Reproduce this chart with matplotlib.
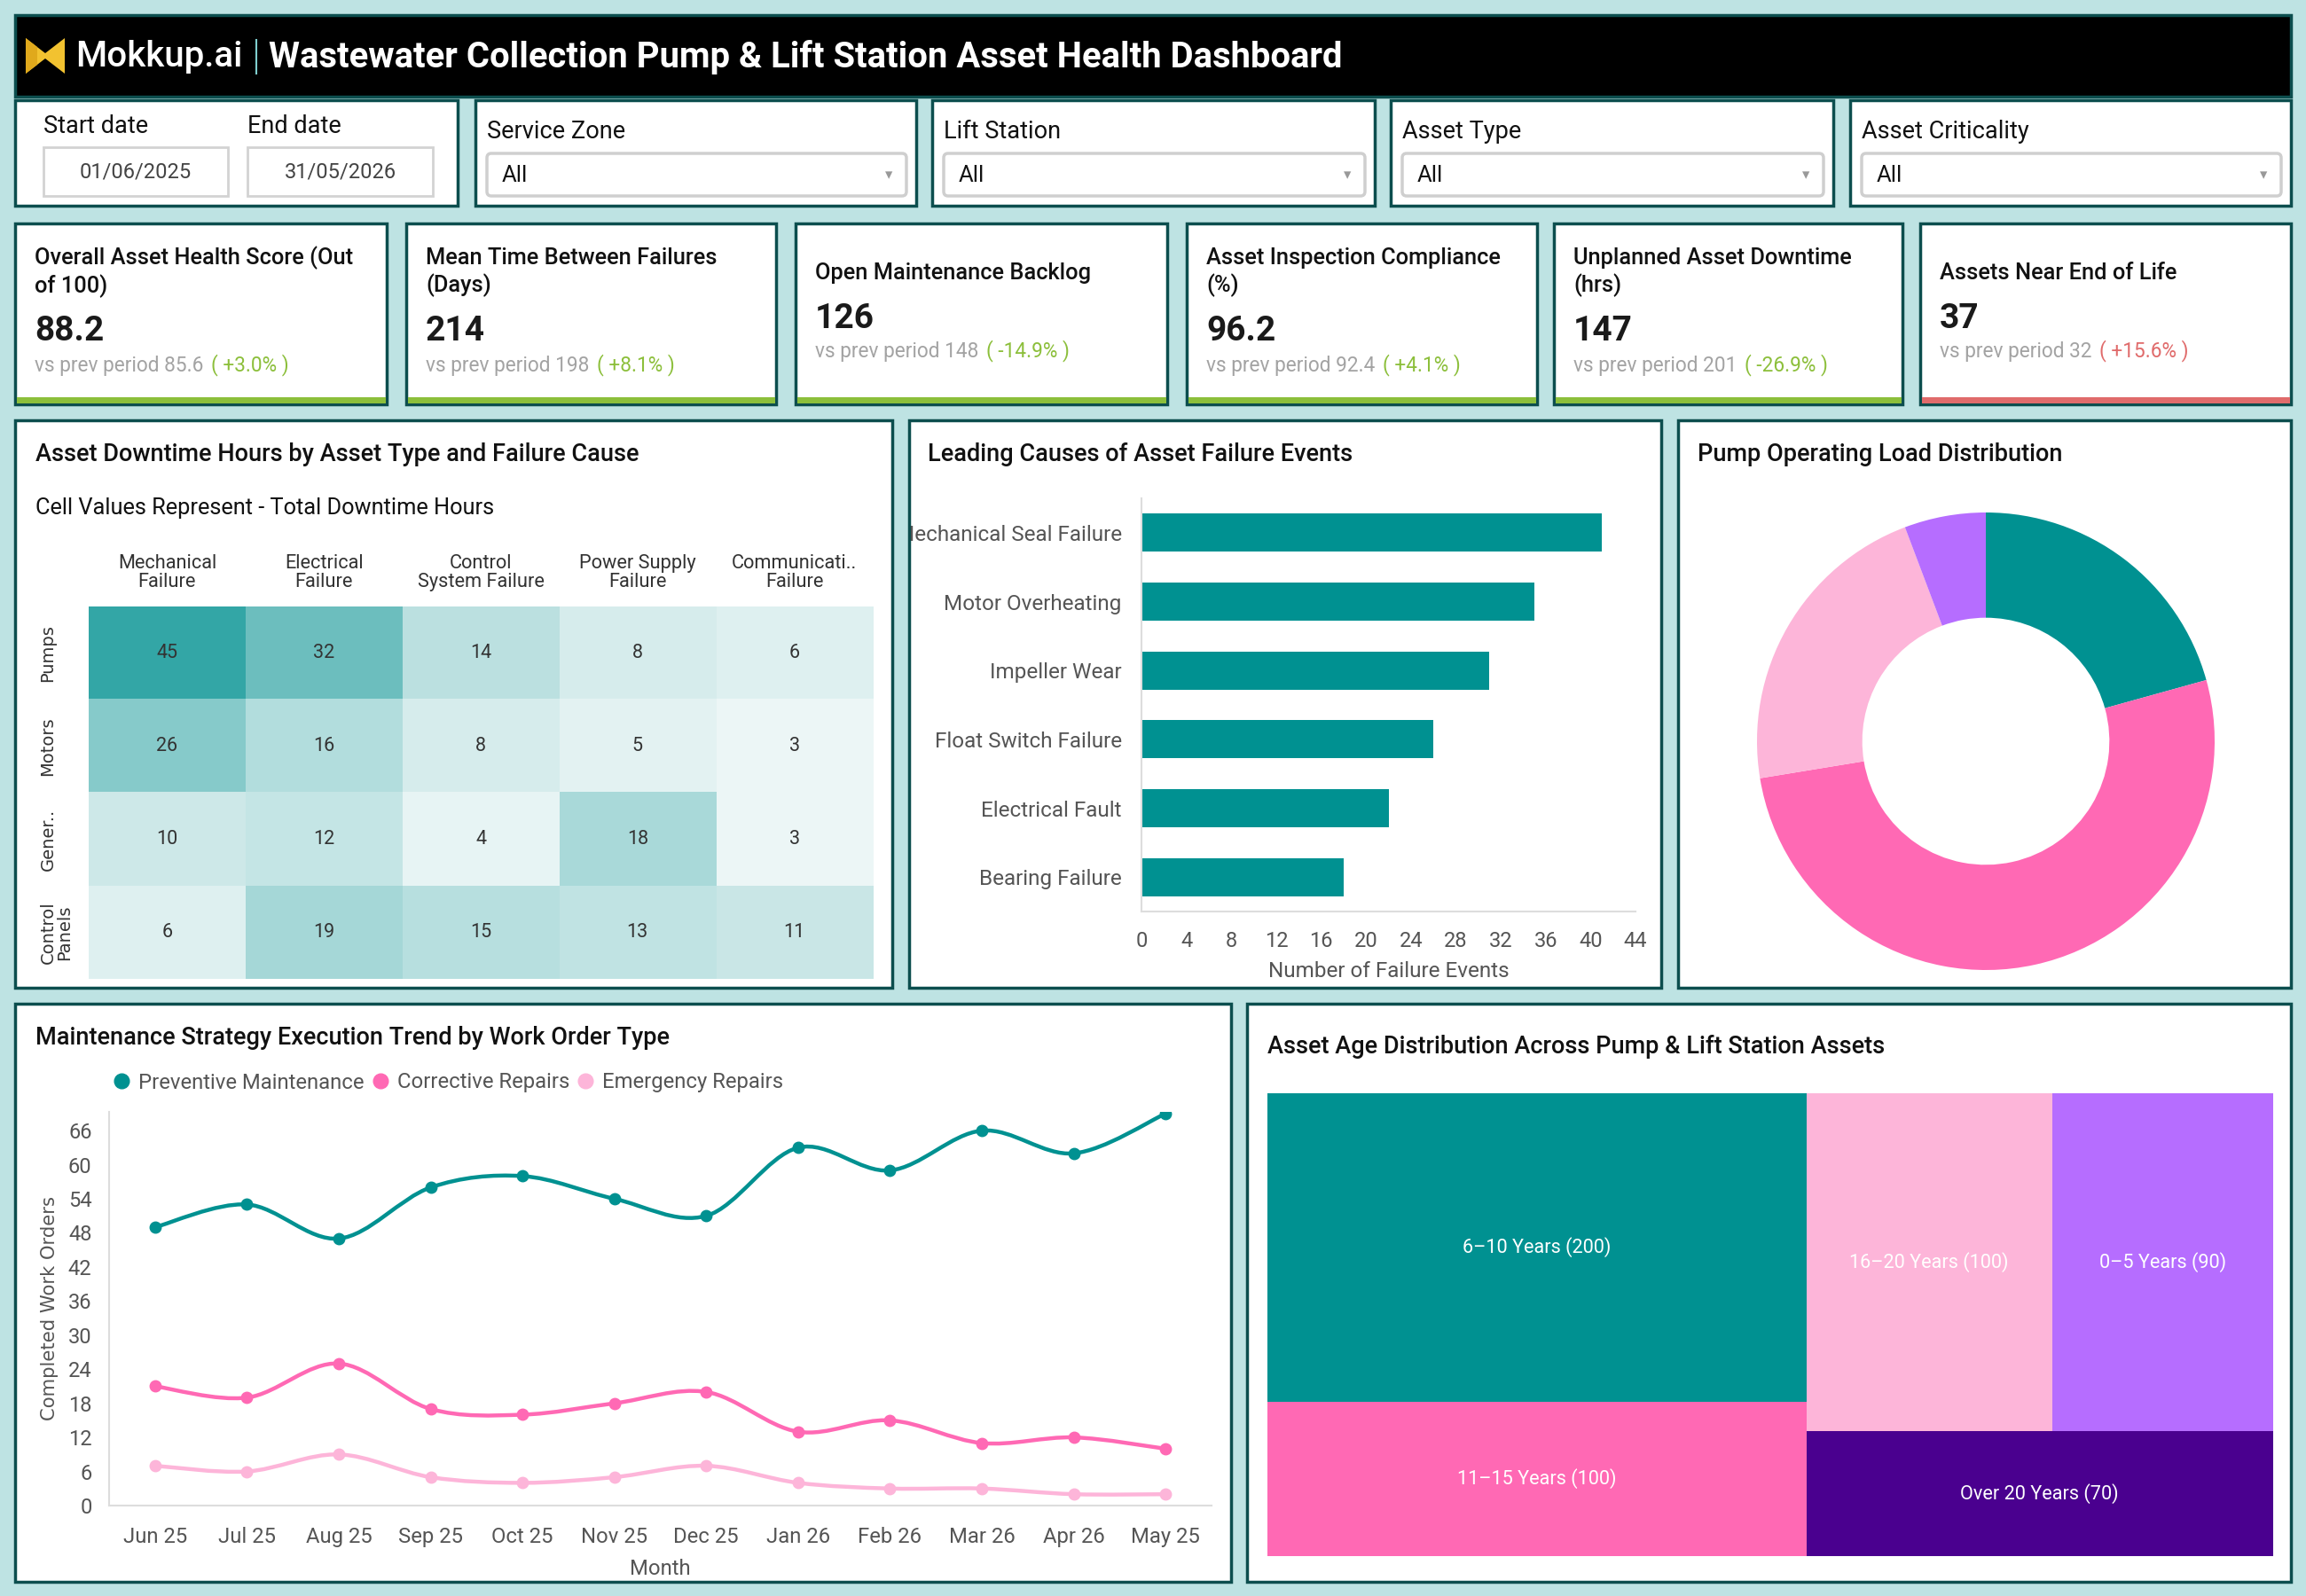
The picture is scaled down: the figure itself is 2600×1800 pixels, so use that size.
import numpy as np
import matplotlib
matplotlib.use('Agg')
import matplotlib.pyplot as plt
from matplotlib.patches import Rectangle, FancyBboxPatch, Polygon, PathPatch
from matplotlib.path import Path
from matplotlib.lines import Line2D
from matplotlib.colors import LinearSegmentedColormap
from matplotlib.transforms import Bbox

plt.rcParams['font.family'] = ['Roboto', 'DejaVu Sans']

# ---------------- data ----------------
header_brand = 'Mokkup.ai'
header_title = 'Wastewater Collection Pump & Lift Station Asset Health Dashboard'

start_label, end_label = 'Start date', 'End date'
start_date, end_date = '01/06/2025', '31/05/2026'
filter_labels = ['Service Zone', 'Lift Station', 'Asset Type', 'Asset Criticality']
filter_values = ['All', 'All', 'All', 'All']

kpi_titles = ['Overall Asset Health Score (Out\nof 100)', 'Mean Time Between Failures\n(Days)',
              'Open Maintenance Backlog', 'Asset Inspection Compliance\n(%)',
              'Unplanned Asset Downtime\n(hrs)', 'Assets Near End of Life']
kpi_values = ['88.2', '214', '126', '96.2', '147', '37']
kpi_prev = ['85.6', '198', '148', '92.4', '201', '32']
kpi_delta = ['+3.0%', '+8.1%', '-14.9%', '+4.1%', '-26.9%', '+15.6%']
kpi_good = [True, True, True, True, True, False]

heat_rows = ['Pumps', 'Motors', 'Gener..', 'Control\nPanels']
heat_cols = ['Mechanical\nFailure', 'Electrical\nFailure', 'Control\nSystem Failure',
             'Power Supply\nFailure', 'Communicati..\nFailure']
heat_pumps = [45, 32, 14, 8, 6]
heat_motors = [26, 16, 8, 5, 3]
heat_gener = [10, 12, 4, 18, 3]
heat_panels = [6, 19, 15, 13, 11]

fail_causes = ['Mechanical Seal Failure', 'Motor Overheating', 'Impeller Wear',
               'Float Switch Failure', 'Electrical Fault', 'Bearing Failure']
fail_counts = [41, 35, 31, 26, 22, 18]

load_labels = ['Normal Load', 'High Load', 'Low Load', 'Overload']
load_values = [36, 90, 38, 10]

months = ['Jun 25', 'Jul 25', 'Aug 25', 'Sep 25', 'Oct 25', 'Nov 25', 'Dec 25',
          'Jan 26', 'Feb 26', 'Mar 26', 'Apr 26', 'May 25']
preventive = [49, 53, 47, 56, 58, 54, 51, 63, 59, 66, 62, 69]
corrective = [21, 19, 25, 17, 16, 18, 20, 13, 15, 11, 12, 10]
emergency = [7, 6, 9, 5, 4, 5, 7, 4, 3, 3, 2, 2]
series_names = ['Preventive Maintenance', 'Corrective Repairs', 'Emergency Repairs']

age_labels = ['6–10 Years', '11–15 Years', '16–20 Years', '0–5 Years', 'Over 20 Years']
age_counts = [200, 100, 100, 90, 70]

# ---------------- style ----------------
W, H = 2600, 1800
BG = '#BEE3E3'
BORDER = '#0C4E4E'
TEAL = '#009191'
HOT = '#FF69B4'
LPINK = '#FDB5D9'
PURPLE = '#B66DFF'
DPURPLE = '#4A008F'
GREEN = '#8CBF3B'
RED = '#E06B6B'
TITLE_FS = 19.5

fig = plt.figure(figsize=(W / 100, H / 100), dpi=100)
fig.patch.set_facecolor(BG)
bg = fig.add_axes([0, 0, 1, 1])
bg.set_xlim(0, W)
bg.set_ylim(H, 0)
bg.axis('off')
bg.set_zorder(0)


def panel(x0, y0, x1, y1, fc='white', ec=BORDER, lw=2.5):
    r = Rectangle((x0, y0), x1 - x0, y1 - y0, fc=fc, ec=ec, lw=lw, zorder=1)
    bg.add_patch(r)
    return r


def fax(x0, y0, x1, y1):
    a = fig.add_axes([x0 / W, 1 - y1 / H, (x1 - x0) / W, (y1 - y0) / H])
    a.set_zorder(2)
    a.patch.set_alpha(0)
    return a


# ---------------- header ----------------
panel(17, 17, 2583, 109, fc='black')
bg.add_patch(Polygon([(29, 43), (51, 60), (73, 43), (73, 83), (51, 66), (29, 83)],
                     closed=True, fc='#F2C230', ec='none', zorder=2))
bg.add_patch(Polygon([(29, 43), (42, 53), (42, 73), (29, 83)], closed=True,
                     fc='#E0A91C', ec='none', zorder=2))
bg.text(85, 64, header_brand, color='white', fontsize=29, fontweight='medium',
        va='center', ha='left', zorder=3)
bg.plot([289, 289], [45, 83], color='#7FCFCF', lw=1.5, zorder=3)
bg.text(303, 64, header_title, color='white', fontsize=28.8, fontweight='bold',
        va='center', ha='left', zorder=3)

# ---------------- filters ----------------
panel(17, 113, 516, 232)
for x0, x1, lab, val in [(49, 257, start_label, start_date), (279, 488, end_label, end_date)]:
    bg.text(x0, 142, lab, fontsize=19.5, color='#111111', va='center', zorder=3)
    bg.add_patch(Rectangle((x0, 166), x1 - x0, 55, fc='white', ec='#D3D3D3', lw=2, zorder=2))
    bg.text((x0 + x1) / 2, 194, val, fontsize=17, color='#444444', va='center',
            ha='center', zorder=3)

fbox = [(536, 1033), (1051, 1550), (1568, 2067), (2086, 2583)]
for (x0, x1), lab, val in zip(fbox, filter_labels, filter_values):
    panel(x0, 113, x1, 232)
    bg.text(x0 + 13, 148, lab, fontsize=19.5, color='#111111', va='center', zorder=3)
    bg.add_patch(FancyBboxPatch((x0 + 13, 173), x1 - x0 - 24, 48,
                                boxstyle='round,pad=0,rounding_size=5',
                                fc='white', ec='#CFCFCF', lw=2.5, zorder=2))
    bg.text(x0 + 30, 198, val, fontsize=18.5, color='#111111', va='center', zorder=3)
    bg.text(x1 - 31, 197, '▾', fontsize=12, color='#999999', va='center', ha='center',
            family=['DejaVu Sans'], zorder=3)

# ---------------- KPI cards ----------------
kpi_x = [(17, 436), (458, 875), (897, 1316), (1338, 1733), (1752, 2145), (2165, 2583)]
for (x0, x1), t, v, p, d, good in zip(kpi_x, kpi_titles, kpi_values, kpi_prev,
                                      kpi_delta, kpi_good):
    panel(x0, 252, x1, 456)
    bg.add_patch(Rectangle((x0 + 1.5, 448), x1 - x0 - 3, 7, fc=GREEN if good else RED,
                           ec='none', zorder=2))
    two = '\n' in t
    ty, vy, py = (307, 374, 412) if two else (308, 359, 397)
    bg.text(x0 + 22, ty, t, fontsize=18.3, fontweight='medium', color='#111111',
            va='center', ha='left', linespacing=1.25, zorder=3)
    bg.text(x0 + 22, vy, v, fontsize=28, fontweight='bold', color='#1A1A1A',
            va='center', ha='left', zorder=3)
    t1 = bg.text(x0 + 22, py, f'vs prev period {p}', fontsize=16.3, color='#A3A3A3',
                 va='center', ha='left', zorder=3)
    bg.annotate(f'( {d} )', xy=(1, 0), xycoords=t1, xytext=(6, 0),
                textcoords='offset points', va='bottom', ha='left', fontsize=16.3,
                color=GREEN if good else RED, zorder=3)

# ---------------- heatmap ----------------
panel(17, 474, 1006, 1114)
bg.text(40, 513, 'Asset Downtime Hours by Asset Type and Failure Cause', fontsize=TITLE_FS,
        fontweight='medium', color='#111111', va='center', zorder=3)
bg.text(40, 573, 'Cell Values Represent - Total Downtime Hours', fontsize=18.3,
        color='#111111', va='center', zorder=3)
axh = fax(100, 684, 984, 1104)
heat = np.array([heat_pumps, heat_motors, heat_gener, heat_panels])
cmap = LinearSegmentedColormap.from_list('tealmap', ['#ECF6F6', '#33A6A6'])
axh.imshow(heat, cmap=cmap, vmin=3, vmax=45, aspect='auto', interpolation='nearest')
for i in range(heat.shape[0]):
    for j in range(heat.shape[1]):
        axh.text(j, i, str(heat[i, j]), ha='center', va='center', fontsize=15.5,
                 color='#333333')
axh.set_xticks(range(len(heat_cols)))
axh.set_xticklabels(heat_cols, fontsize=15.7, color='#333333', linespacing=1.05)
axh.xaxis.tick_top()
axh.set_yticks(range(len(heat_rows)))
axh.set_yticklabels(heat_rows, rotation=90, va='center', ha='left', fontsize=14,
                    color='#333333', family=['DejaVu Sans'], linespacing=1.0,
                    multialignment='center')
axh.tick_params(axis='x', length=0, pad=12)
axh.tick_params(axis='y', length=0, pad=40)
for s in axh.spines.values():
    s.set_visible(False)

# ---------------- bar chart ----------------
panel(1025, 474, 1873, 1114)
bg.text(1046, 513, 'Leading Causes of Asset Failure Events', fontsize=TITLE_FS,
        fontweight='medium', color='#111111', va='center', zorder=3)
axb = fax(1287, 562, 1844, 1028)
axb.barh(range(len(fail_causes)), fail_counts, height=0.55, color=TEAL)
axb.set_ylim(len(fail_causes) - 0.5, -0.5)
axb.set_xlim(0, 44)
axb.set_xticks(np.arange(0, 45, 4))
axb.set_yticks(range(len(fail_causes)))
axb.set_yticklabels(fail_causes)
axb.tick_params(axis='y', length=0, pad=16, labelsize=17.5, labelcolor='#555555')
axb.tick_params(axis='x', length=0, pad=16, labelsize=17, labelcolor='#555555')
axb.set_xlabel('Number of Failure Events', fontsize=17.5, color='#555555', labelpad=8)
for s in ['top', 'right']:
    axb.spines[s].set_visible(False)
for s in ['left', 'bottom']:
    axb.spines[s].set_color('#DDDDDD')
    axb.spines[s].set_linewidth(1.5)
clipbox = Bbox.from_extents(1027, 0, 2600, 1800)
for lab in axb.get_yticklabels():
    lab.set_clip_on(True)
    lab.set_clip_box(clipbox)

# ---------------- donut ----------------
panel(1892, 474, 2583, 1114)
bg.text(1914, 513, 'Pump Operating Load Distribution', fontsize=TITLE_FS,
        fontweight='medium', color='#111111', va='center', zorder=3)
cx, cy, R = 2239, 836, 258
axd = fax(cx - R, cy - R, cx + R, cy + R)
axd.pie(load_values, colors=[TEAL, HOT, LPINK, PURPLE], startangle=90,
        counterclock=False, radius=1, wedgeprops=dict(width=0.46, edgecolor='none'))
axd.set_xlim(-1, 1)
axd.set_ylim(-1, 1)
axd.set_aspect('equal')
axd.axis('off')

# ---------------- line chart ----------------
panel(17, 1132, 1388, 1784)
bg.text(40, 1171, 'Maintenance Strategy Execution Trend by Work Order Type', fontsize=TITLE_FS,
        fontweight='medium', color='#111111', va='center', zorder=3)
axl = fax(123, 1254, 1366, 1698)
xs = np.arange(len(months))


def smooth_path(x, y, t=1 / 6):
    pts = np.column_stack([x, y]).astype(float)
    n = len(pts)
    verts = [pts[0]]
    codes = [Path.MOVETO]
    for i in range(n - 1):
        p0 = pts[max(i - 1, 0)]
        p1 = pts[i]
        p2 = pts[i + 1]
        p3 = pts[min(i + 2, n - 1)]
        verts += [p1 + (p2 - p0) * t, p2 - (p3 - p1) * t, p2]
        codes += [Path.CURVE4] * 3
    return Path(verts, codes)


for ys, c in [(emergency, LPINK), (corrective, HOT), (preventive, TEAL)]:
    axl.add_patch(PathPatch(smooth_path(xs, ys), fill=False, ec=c, lw=3.2,
                            capstyle='round', joinstyle='round'))
    axl.plot(xs, ys, 'o', ms=9, color=c, zorder=3)
axl.set_xlim(-0.5, len(months) - 0.5)
axl.set_ylim(0, 69.3)
axl.set_yticks(np.arange(0, 67, 6))
axl.set_xticks(xs)
axl.set_xticklabels(months)
axl.tick_params(axis='y', length=0, pad=14, labelsize=17, labelcolor='#555555')
axl.tick_params(axis='x', length=0, pad=17, labelsize=17.2, labelcolor='#555555')
axl.set_xlabel('Month', fontsize=17.2, color='#555555', labelpad=10)
axl.set_ylabel('Completed Work Orders', fontsize=15.2, color='#555555',
               family=['DejaVu Sans'])
axl.yaxis.set_label_coords(-0.046, 0.5)
for s in ['top', 'right']:
    axl.spines[s].set_visible(False)
for s in ['left', 'bottom']:
    axl.spines[s].set_color('#DDDDDD')
    axl.spines[s].set_linewidth(1.5)
handles = [Line2D([], [], marker='o', ls='', color=c, ms=12) for c in [TEAL, HOT, LPINK]]
fig.legend(handles, series_names, loc='center left', ncol=3, frameon=False,
           bbox_to_anchor=(130 / W, 1 - 1221 / H), bbox_transform=fig.transFigure,
           fontsize=17.2, labelcolor='#555555', handlelength=0.6, handletextpad=0.5,
           columnspacing=0.45, borderpad=0, borderaxespad=0)

# ---------------- treemap ----------------
panel(1406, 1132, 2583, 1784)
bg.text(1429, 1180, 'Asset Age Distribution Across Pump & Lift Station Assets',
        fontsize=TITLE_FS, fontweight='medium', color='#111111', va='center', zorder=3)
axt = fax(1429, 1233, 2563, 1755)
axt.set_xlim(0, 1)
axt.set_ylim(1, 0)
axt.axis('off')
total = sum(age_counts)
left = age_counts[0] + age_counts[1]
right = total - left
wl = left / total
h0 = age_counts[0] / left
top_r = age_counts[2] + age_counts[3]
hr = top_r / right
w2 = (1 - wl) * age_counts[2] / top_r
rects = [
    (0, 0, wl, h0),
    (0, h0, wl, 1 - h0),
    (wl, 0, w2, hr),
    (wl + w2, 0, 1 - wl - w2, hr),
    (wl, hr, 1 - wl, 1 - hr),
]
tcolors = [TEAL, HOT, LPINK, PURPLE, DPURPLE]
for (x, y, w, h), c, lab, v in zip(rects, tcolors, age_labels, age_counts):
    axt.bar(x, h, width=w, bottom=y, align='edge', color=c, edgecolor='none')
    axt.text(x + w / 2, y + h / 2, f'{lab} ({v})', ha='center', va='center',
             fontsize=15.6, color='white')

fig.savefig('out.png', dpi=100, facecolor=fig.get_facecolor())
